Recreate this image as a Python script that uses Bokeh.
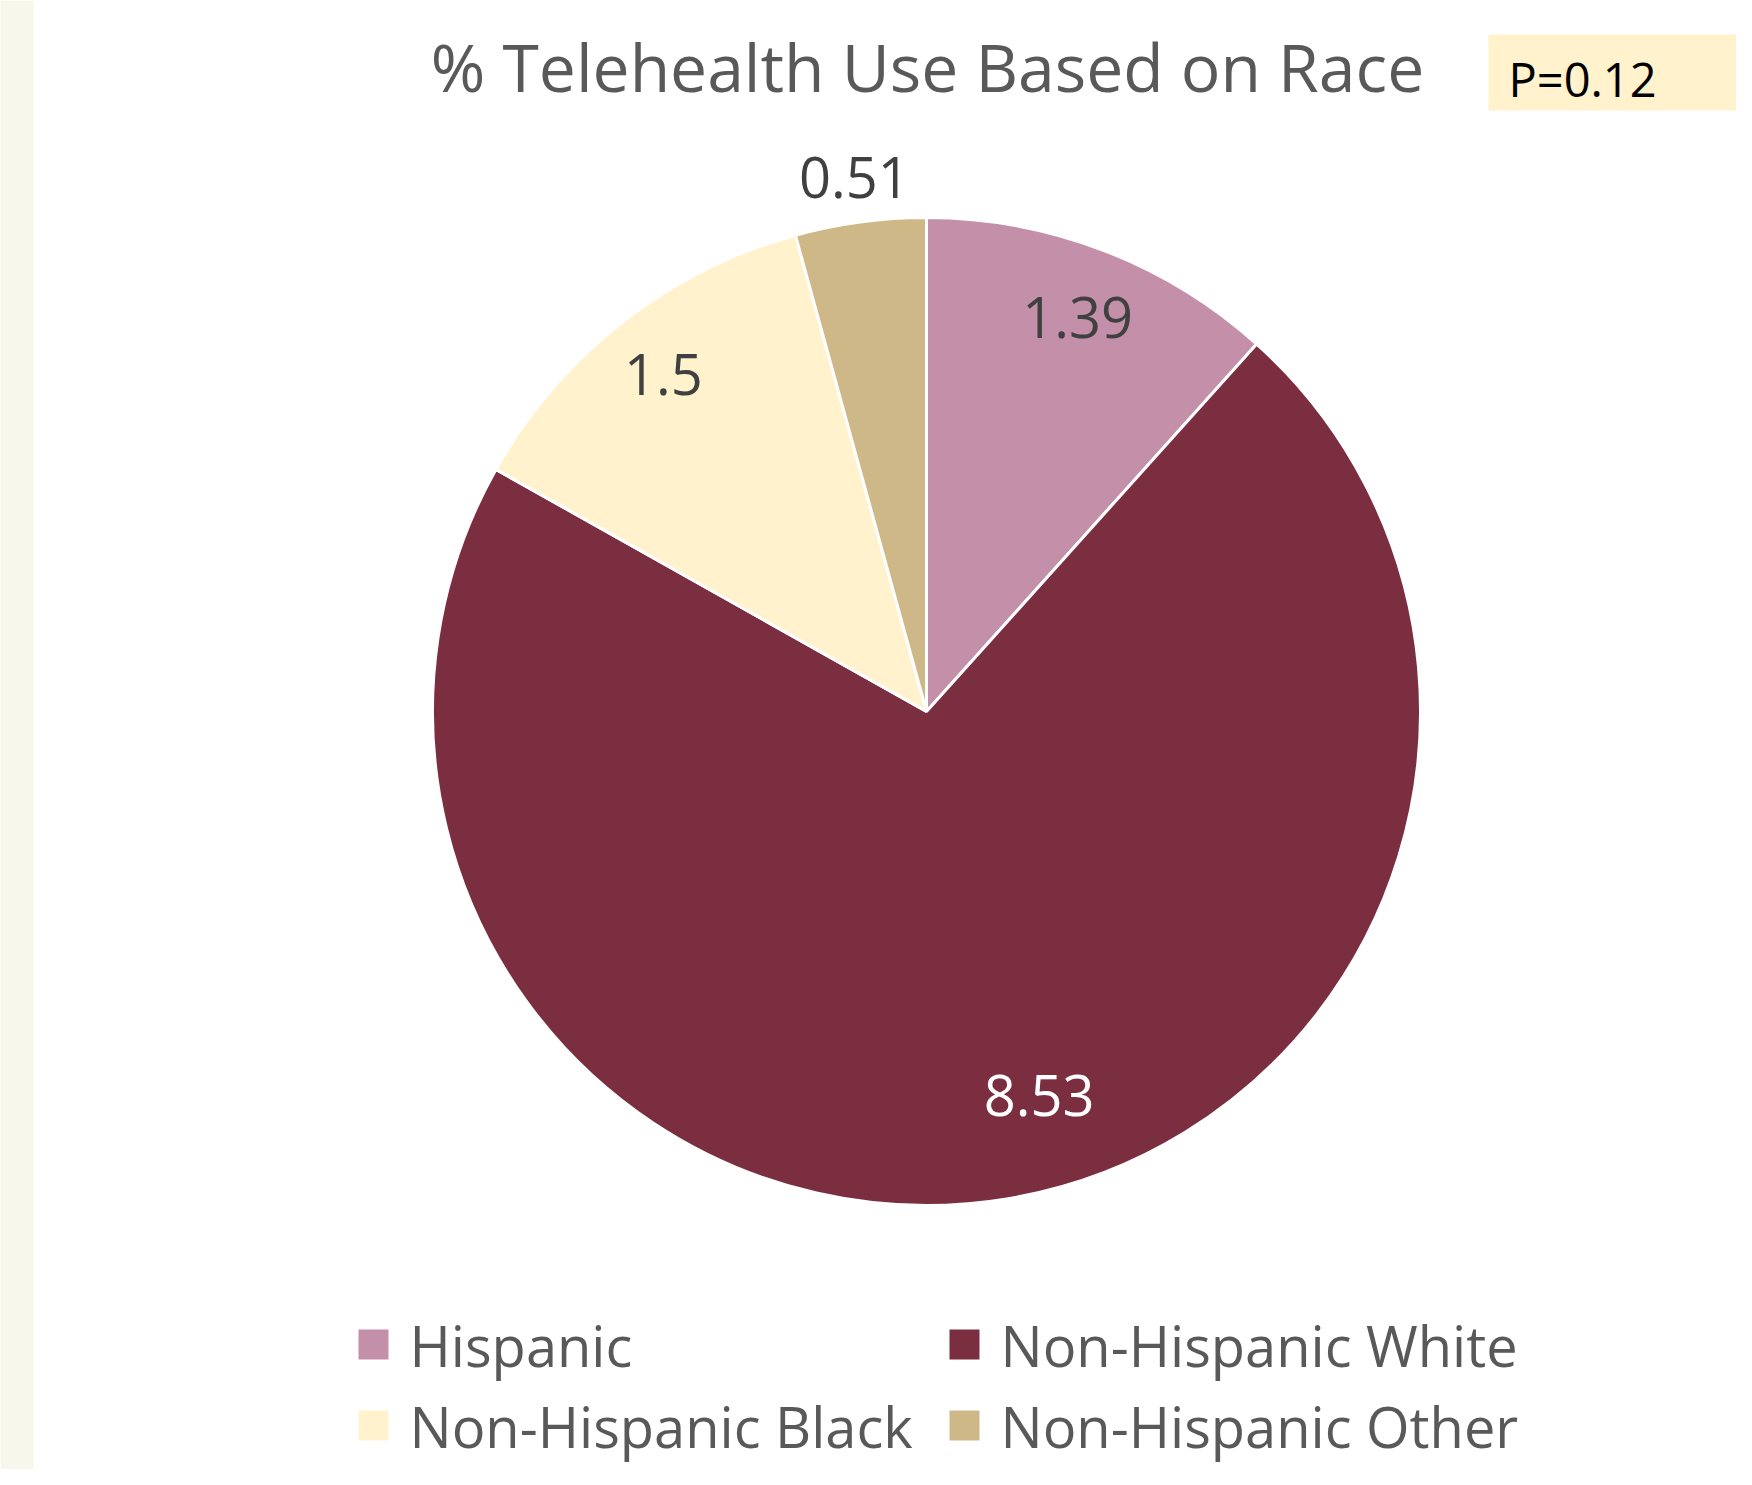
import math
from bokeh.plotting import figure
from bokeh.models import Range1d, ColumnDataSource
from bokeh.core.properties import value
from bokeh.embed import file_html
from bokeh.resources import INLINE

# ---- data ----
categories = ["Hispanic", "Non-Hispanic White", "Non-Hispanic Black", "Non-Hispanic Other"]
values = [1.39, 8.53, 1.5, 0.51]
label_texts = ["1.39", "8.53", "1.5", "0.51"]
colors = ["#c48fa9", "#7a2e40", "#fff2cc", "#cfb888"]
label_colors = ["#404040", "#ffffff", "#404040", "#404040"]
title_text = "% Telehealth Use Based on Race"
p_text = "P=0.12"

# ---- layout ----
W, H = 1736, 1469
FONT = "Open Sans"
cx, cy, R = 926, H - 711, 494
label_r = [0.855, 0.81, 0.865, 1.09]
label_shift_deg = [0, -7, 0, 0]

p = figure(width=W, height=H, output_backend="svg", toolbar_location=None,
           x_range=Range1d(0, W), y_range=Range1d(0, H), min_border=0)
p.axis.visible = False
p.grid.visible = False
p.outline_line_color = None
p.background_fill_color = "white"
p.border_fill_color = "white"

# left strip
p.quad(left=0, right=33, bottom=0, top=H, fill_color="#f7f7eb", line_color=None)

# pie
total = sum(values)
starts, ends, lx, ly = [], [], [], []
cum = 0.0
for i, v in enumerate(values):
    a0 = cum / total * 2 * math.pi
    cum += v
    a1 = cum / total * 2 * math.pi
    starts.append(math.pi / 2 - a0)
    ends.append(math.pi / 2 - a1)
    mid = (a0 + a1) / 2 + math.radians(label_shift_deg[i])
    lx.append(cx + R * label_r[i] * math.sin(mid))
    ly.append(cy + R * label_r[i] * math.cos(mid))

src = ColumnDataSource(dict(start=starts, end=ends, color=colors,
                            lx=lx, ly=ly, txt=label_texts, tc=label_colors))
p.wedge(x=cx, y=cy, radius=R, start_angle="start", end_angle="end",
        direction="clock", fill_color="color", line_color="white",
        line_width=3, source=src)
p.text(x="lx", y="ly", text="txt", text_color="tc", source=src,
       text_font=value(FONT), text_font_size="56px",
       text_align="center", text_baseline="middle")

# title
p.text(x=[927], y=[H - 65], text=[title_text], text_font=value(FONT),
       text_font_size="66px", text_color="#595959",
       text_align="center", text_baseline="middle")

# P box
p.quad(left=1488, right=W, bottom=H - 110, top=H - 34, fill_color="#fff2cc", line_color=None)
p.text(x=[1508], y=[H - 78], text=[p_text], text_font=value(FONT),
       text_font_size="47px", text_color="#000000",
       text_align="left", text_baseline="middle")

# legend
lgx = [373, 964, 373, 964]
lgy = [H - 1344, H - 1344, H - 1425, H - 1425]
lsrc = ColumnDataSource(dict(x=lgx, y=lgy, tx=[x + 36 for x in lgx],
                             color=colors, name=categories))
p.rect(x="x", y="y", width=30, height=30, fill_color="color",
       line_color=None, source=lsrc)
p.text(x="tx", y="y", text="name", source=lsrc, text_font=value(FONT),
       text_font_size="56px", text_color="#595959",
       text_align="left", text_baseline="middle")

open("out.html", "w").write(file_html(p, INLINE))
